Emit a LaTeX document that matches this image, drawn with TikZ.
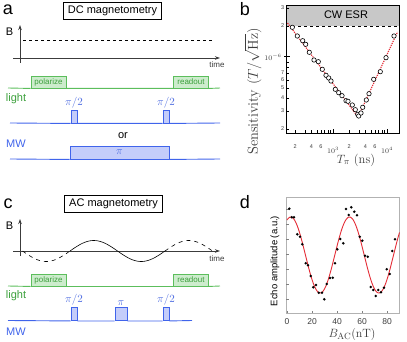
\documentclass[tikz,border=0pt]{standalone}
\usepackage[no-math]{fontspec}
\setsansfont{Liberation Sans}
\usetikzlibrary{arrows.meta,positioning}
\definecolor{lightline}{RGB}{92,190,92}
\definecolor{lightfill}{RGB}{205,236,205}
\definecolor{lighttext}{RGB}{60,160,60}
\definecolor{mwline}{RGB}{64,100,235}
\definecolor{mwfill}{RGB}{196,205,250}
\definecolor{mwtext}{RGB}{80,110,225}
\definecolor{esrgray}{RGB}{200,200,200}
\definecolor{fitred}{RGB}{228,45,55}
\definecolor{axisgray}{RGB}{60,60,60}

\begin{document}
\begin{tikzpicture}
[
    x=1pt, y=-1pt,
    panel/.style={font=\sffamily\fontsize{18}{18}\selectfont, inner sep=0pt},
    titlebox/.style={draw, font=\sffamily\fontsize{11}{12}\selectfont, minimum width=98pt, minimum height=17pt, inner sep=0pt},
    axis/.style={draw=axisgray, line width=0.7pt, -{Stealth[length=5pt,width=3.5pt]}},
    axislabel/.style={font=\sffamily\fontsize{11}{12}\selectfont, inner sep=0pt},
    timelabel/.style={font=\sffamily\fontsize{8}{9}\selectfont, text=axisgray, inner sep=0pt},
    lightpulse/.style={draw=lightline, fill=lightfill, line width=0.9pt, minimum width=35pt, minimum height=12pt, inner sep=0pt, font=\sffamily\fontsize{8}{9}\selectfont, text=lighttext},
    lightbase/.style={draw=lightline, line width=0.9pt},
    mwpulse/.style={draw=mwline, fill=mwfill, line width=0.9pt, minimum width=6pt, minimum height=13pt, inner sep=0pt},
    mwbase/.style={draw=mwline, line width=0.9pt},
    mwlabel/.style={text=mwtext, font=\fontsize{11}{12}\selectfont, inner sep=0pt},
    rowlabel/.style={font=\sffamily\fontsize{11}{12}\selectfont, inner sep=0pt},
    wave/.style={line width=0.6pt},
    ticklabel/.style={font=\sffamily\fontsize{5.5}{6}\selectfont, text=axisgray, inner sep=0pt},
    decadelabel/.style={font=\fontsize{7.5}{8}\selectfont, text=axisgray, inner sep=0pt},
    datacircle/.style={draw=black, fill=white, line width=0.6pt},
    echodot/.style={fill=black},
    fitline/.style={draw=fitred, line width=0.9pt}
]
    \useasboundingbox (0,0) rectangle (407,342);

    % a: DC magnetometry
    \begin{scope}
        \node [panel] (a) at (8,10) {a};
        \node [titlebox] (dctitle) at (112.5,11) {DC magnetometry};
        \draw [axis] (20,63) -- (20,25);
        \draw [axis] (13,58) -- (220,58);
        \node [axislabel] (ba) at (9.5,32) {B};
        \node [timelabel] (timea) at (217,64.5) {time};
        \draw [dash pattern=on 3pt off 3pt, line width=0.6pt] (23,40) -- (212,40);
        \node [lightpulse] (pola) at (48.5,82) {polarize};
        \node [lightpulse] (reada) at (191,82) {readout};
        \draw [lightbase] (8,88) -- (pola.south west) (pola.south east) -- (reada.south west) (reada.south east) -- (220,88);
        \node [rowlabel, text=lighttext] (lighta) at (16,99) {light};
        \node [mwpulse] (halfa1) at (74,116.5) {};
        \node [mwpulse] (halfa2) at (166,116.5) {};
        \node [mwlabel, above=1.5pt of halfa1] {$\pi/2$};
        \node [mwlabel, above=1.5pt of halfa2] {$\pi/2$};
        \draw [mwbase] (10,123) -- (halfa1.south west) (halfa1.south east) -- (halfa2.south west) (halfa2.south east) -- (220,123);
        \node [axislabel] (or) at (123,135.5) {or};
        \node [mwpulse, minimum width=99pt, text=mwtext, font=\fontsize{11}{12}\selectfont] (pia) at (119.5,152.5) {$\pi$};
        \draw [mwbase] (10,159) -- (pia.south west) (pia.south east) -- (220,159);
        \node [rowlabel, text=mwline] (mwa) at (16,143.5) {MW};
    \end{scope}

    % c: AC magnetometry
    \begin{scope}
        \node [panel] (c) at (8,203.5) {c};
        \node [titlebox] (actitle) at (113.5,204) {AC magnetometry};
        \draw [axis] (20,256) -- (20,219);
        \draw [axis] (13,251) -- (220,251);
        \node [axislabel] (bc) at (9.5,226) {B};
        \node [timelabel] (timec) at (217,259) {time};
        \draw [wave, dash pattern=on 4pt off 4pt] plot [domain=22.5:70, samples=30] (\x,{251-10.5*sin((\x-70)/47.5*180)});
        \draw [wave] plot [domain=70:165, samples=60] (\x,{251-10.5*sin((\x-70)/47.5*180)});
        \draw [wave, dash pattern=on 4pt off 4pt] plot [domain=165:212.5, samples=30] (\x,{251-10.5*sin((\x-70)/47.5*180)});
        \node [lightpulse] (polc) at (48.5,280) {polarize};
        \node [lightpulse] (readc) at (191,280) {readout};
        \draw [lightbase] (8,286) -- (polc.south west) (polc.south east) -- (readc.south west) (readc.south east) -- (220,286);
        \node [rowlabel, text=lighttext] (lightc) at (16,296) {light};
        \node [mwpulse] (halfc1) at (74,314) {};
        \node [mwpulse, minimum width=12pt] (pic) at (121,314) {};
        \node [mwpulse] (halfc2) at (166,314) {};
        \node [mwlabel, above=1.5pt of halfc1] {$\pi/2$};
        \node [mwlabel, above=1.5pt of pic] {$\pi$};
        \node [mwlabel, above=1.5pt of halfc2] {$\pi/2$};
        \draw [mwbase] (8,320.5) -- (halfc1.south west) (halfc1.south east) -- (pic.south west) (pic.south east) -- (halfc2.south west) (halfc2.south east) -- (192,320.5);
        \node [rowlabel, text=mwline] (mwc) at (16,331.5) {MW};
    \end{scope}

    % b: sensitivity against pulse length
    \begin{scope}
        \node [panel] (b) at (245,9.5) {b};
        \fill [esrgray] (286,5) rectangle (399,26);
        \node [axislabel] (cwesr) at (346,14.5) {CW ESR};
        \draw [dashed, line width=0.9pt] (286,26) -- (399,26);
        \draw [line width=0.7pt] (286,5) rectangle (399,133);
        \foreach \v/\lab in {2/2,3/3,4/4,5/5,6/6,7/7,8/,9/} {
            \pgfmathsetmacro{\yy}{160-103*log10(\v)}
            \draw (286,\yy) -- (288.5,\yy);
            \node [ticklabel, anchor=east] at (284.5,\yy) {\lab};
        }
        \foreach \v in {2,3} {
            \pgfmathsetmacro{\yy}{57-103*log10(\v)}
            \draw (286,\yy) -- (288.5,\yy);
            \node [ticklabel, anchor=east] at (284.5,\yy) {\v};
        }
        \draw [line width=1pt] (284,57) -- (290,57);
        \node [decadelabel] (ymajor) at (273,57.5) {$10^{-6}$};
        \foreach \v in {2,...,9} {
            \pgfmathsetmacro{\xa}{279+54*log10(\v)}
            \pgfmathsetmacro{\xb}{333+54*log10(\v)}
            \draw (\xa,133) -- (\xa,130.5);
            \draw (\xb,133) -- (\xb,130.5);
        }
        \foreach \v in {2,4,6} {
            \pgfmathsetmacro{\xa}{279+54*log10(\v)}
            \pgfmathsetmacro{\xb}{333+54*log10(\v)}
            \node [ticklabel] at (\xa,146.5) {\v};
            \node [ticklabel] at (\xb,146.5) {\v};
        }
        \draw (333,133) -- (333,129);
        \draw (387,133) -- (387,129);
        \node [decadelabel] (xmajor1) at (333,150) {$10^3$};
        \node [decadelabel] (xmajor2) at (387,150) {$10^4$};
        \draw [fitline, line width=1.1pt, dash pattern=on 1.2pt off 1pt] (287.5,23) -- (358,117) -- (397.5,32);
        \foreach \p in {(292.3,27.3),(297.3,36),(302.7,40.7),(305.7,44.3),(309.3,52.3),(314,60),(318.3,61.7),(322.3,69.3),(326,75.3),(328.7,78),(331,81),(335.3,89.3),(338.7,92.7),(342,95.7),(346,100.7),(348,101.3),(352.3,105),(355.3,109.7),(357.7,114.3),(358.7,116),(361,113),(362.7,107.3),(366.3,100),(369,93.7),(373.7,79.3),(380.3,71.7),(386,57.7),(394,36)}
            \draw [datacircle] \p circle (2.2);
        \node [rotate=90, font=\fontsize{14.5}{15}\selectfont, text=axisgray] (senslabel) at (253,91.5) {Sensitivity $(T/\sqrt{\mathrm{Hz}})$};
        \node [font=\fontsize{12.5}{13}\selectfont, text=axisgray] (tpilabel) at (356,160) {$T_\pi$ (ns)};
    \end{scope}

    % d: echo amplitude against AC field
    \begin{scope}
        \node [panel] (d) at (245,202) {d};
        \draw [draw=gray!60, line width=0.5pt] (286,197) rectangle (399,313);
        \foreach \yy in {209,224,...,299}
            \draw [gray] (286,\yy) -- (288.5,\yy);
        \foreach \b in {0,20,...,80} {
            \draw [gray] ({287+1.25*\b},313) -- ({287+1.25*\b},310.5);
            \node [font=\sffamily\fontsize{8.5}{9}\selectfont, text=axisgray] at ({287+1.25*\b},322) {\b};
        }
        \draw [fitline] plot [domain=0:90, samples=120] ({287+1.25*\x},{255-38*cos((\x-3)/47*360)});
        \foreach \p in {(289.3,208.7),(291.7,217.3),(294,217.3),(297.3,234.3),(300,236.7),(302.3,244.3),(305.7,263.3),(308,265.3),(310.7,276),(313.3,287.3),(316,285),(318.7,292.7),(322,292.7),(324.3,299.3),(326.7,284),(330,278),(332.7,277.7),(335,263.3),(337.3,249.3),(340.3,239),(343.3,243.3),(346,209),(348.7,215),(351.3,207.3),(354.3,211.7),(357,215.3),(359.7,236.7),(362.3,240.7),(365,255.7),(367.7,256.7),(370.7,287),(373.3,290),(375.7,296),(378.3,290),(381,292.3),(384,287.7),(386.7,269.3),(389.7,274),(392.3,251),(395,239.3)}
            \fill [echodot] \p circle (1.4);
        \node [rotate=90, font=\sffamily\fontsize{9.5}{10}\selectfont] (echolabel) at (275,261) {Echo amplitude (a.u.)};
        \node [font=\fontsize{13}{14}\selectfont, text=axisgray] (bacl) at (352,334) {$B_{\mathrm{AC}}(\mathrm{nT})$};
    \end{scope}
\end{tikzpicture}
\end{document}
